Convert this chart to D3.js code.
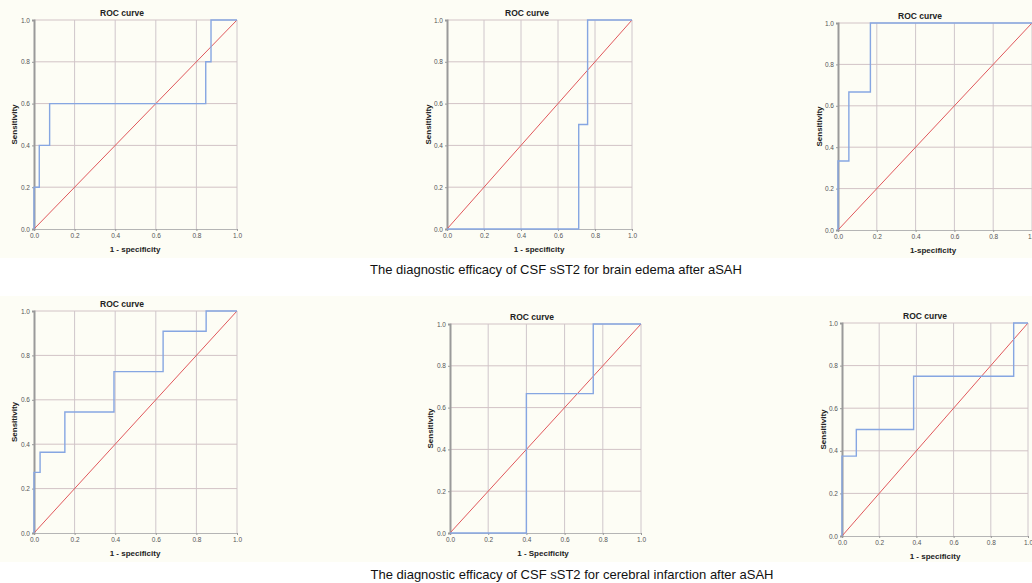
<!DOCTYPE html>
<html>
<head>
<meta charset="utf-8">
<script src="https://cdn.jsdelivr.net/npm/d3@7"></script>
<style>
  body { margin: 0; background: #ffffff; }
  svg { display: block; font-family: "Liberation Sans", Arial, sans-serif; }
</style>
</head>
<body>
<div id="chart"></div>
<script>
// ROC step points (1 - specificity, sensitivity) for each panel
const edemaA_fpr = [0, 0, 0.026, 0.026, 0.077, 0.077, 0.846, 0.846, 0.872, 0.872, 1];
const edemaA_tpr = [0, 0.2, 0.2, 0.4, 0.4, 0.6, 0.6, 0.8, 0.8, 1, 1];
const edemaB_fpr = [0, 0.712, 0.712, 0.76, 0.76, 1];
const edemaB_tpr = [0, 0, 0.5, 0.5, 1, 1];
const edemaC_fpr = [0, 0, 0.056, 0.056, 0.167, 0.167, 1];
const edemaC_tpr = [0, 0.333, 0.333, 0.667, 0.667, 1, 1];
const infarctA_fpr = [0, 0, 0.03, 0.03, 0.152, 0.152, 0.394, 0.394, 0.636, 0.636, 0.848, 0.848, 1];
const infarctA_tpr = [0, 0.273, 0.273, 0.364, 0.364, 0.545, 0.545, 0.727, 0.727, 0.909, 0.909, 1, 1];
const infarctB_fpr = [0, 0.4, 0.4, 0.75, 0.75, 1];
const infarctB_tpr = [0, 0, 0.667, 0.667, 1, 1];
const infarctC_fpr = [0, 0, 0.077, 0.077, 0.385, 0.385, 0.923, 0.923, 1];
const infarctC_tpr = [0, 0.375, 0.375, 0.5, 0.5, 0.75, 0.75, 1, 1];

const tickVals = [0, 0.2, 0.4, 0.6, 0.8, 1.0];
const panelTitle = "ROC curve";
const yLabel = "Sensitivity";
const xLabels = ["1 - specificity", "1 - specificity", "1-specificity",
                 "1 - specificity", "1 - Specificity", "1 - specificity"];
const captions = ["The diagnostic efficacy of CSF sST2 for brain edema after aSAH",
                  "The diagnostic efficacy of CSF sST2 for cerebral infarction after aSAH"];

const W = 1032, H = 583;
const svg = d3.select("#chart").append("svg")
  .attr("width", W).attr("height", H);

// cream backgrounds behind each row of plots
svg.append("rect").attr("x", 0).attr("y", 0).attr("width", W).attr("height", 258).attr("fill", "#fdfdf5");
svg.append("rect").attr("x", 0).attr("y", 296).attr("width", W).attr("height", 266).attr("fill", "#fdfdf5");

// plot box of each panel: left, right, top, bottom, title center, xlabel center, ylabel center x
const panels = [
  {fpr: edemaA_fpr, tpr: edemaA_tpr, l: 34, r: 237, t: 20, b: 229, tx: 122, lx: 135, ly: 14},
  {fpr: edemaB_fpr, tpr: edemaB_tpr, l: 447, r: 632, t: 20, b: 229, tx: 527, lx: 539, ly: 428},
  {fpr: edemaC_fpr, tpr: edemaC_tpr, l: 838, r: 1032, t: 23, b: 230, tx: 920, lx: 933, ly: 819},
  {fpr: infarctA_fpr, tpr: infarctA_tpr, l: 34, r: 237, t: 311, b: 533, tx: 122, lx: 135, ly: 14},
  {fpr: infarctB_fpr, tpr: infarctB_tpr, l: 450, r: 641, t: 324, b: 533, tx: 532, lx: 543, ly: 430},
  {fpr: infarctC_fpr, tpr: infarctC_tpr, l: 842, r: 1028, t: 323, b: 536, tx: 925, lx: 935, ly: 823}
];

panels.forEach(function(p, i) {
  const x = d3.scaleLinear().domain([0, 1]).range([p.l, p.r]);
  const y = d3.scaleLinear().domain([0, 1]).range([p.b, p.t]);
  const g = svg.append("g");

  // grid
  g.selectAll(".vg").data(tickVals.slice(1)).enter().append("line")
    .attr("x1", d => x(d)).attr("x2", d => x(d))
    .attr("y1", p.t).attr("y2", p.b)
    .attr("stroke", "#cfc6cb").attr("stroke-width", 1);
  g.selectAll(".hg").data(tickVals.slice(1)).enter().append("line")
    .attr("x1", p.l).attr("x2", p.r)
    .attr("y1", d => y(d)).attr("y2", d => y(d))
    .attr("stroke", "#d2c3c6").attr("stroke-width", 1);

  // axes
  const xAxis = g.append("g")
    .attr("transform", "translate(0," + p.b + ")")
    .call(d3.axisBottom(x).tickValues(tickVals).tickFormat(d3.format(".1f")).tickSize(2).tickPadding(2));
  const yAxis = g.append("g")
    .attr("transform", "translate(" + p.l + ",0)")
    .call(d3.axisLeft(y).tickValues(tickVals).tickFormat(d3.format(".1f")).tickSize(2).tickPadding(2));
  [xAxis, yAxis].forEach(function(a) {
    a.select(".domain").attr("stroke", "#b5b5b5");
    a.selectAll(".tick line").attr("stroke", "#999");
    a.selectAll("text").attr("fill", "#555").style("font-size", "6.5px")
      .style("font-family", "Liberation Sans, Arial, sans-serif");
  });
  yAxis.select(".domain").attr("stroke", "#9a9a9a").attr("stroke-width", 2);

  // diagonal reference line
  g.append("line")
    .attr("x1", x(0)).attr("y1", y(0)).attr("x2", x(1)).attr("y2", y(1))
    .attr("stroke", "#e0585c").attr("stroke-width", 1);

  // ROC curve
  const pts = p.fpr.map((f, k) => [f, p.tpr[k]]);
  g.append("path")
    .datum(pts)
    .attr("fill", "none")
    .attr("stroke", "#86a6e2")
    .attr("stroke-width", 1.4)
    .attr("d", d3.line().x(d => x(d[0])).y(d => y(d[1])));

  // title and labels
  g.append("text")
    .attr("x", p.tx).attr("y", p.t - 4)
    .attr("text-anchor", "middle")
    .style("font-size", "8.5px").style("font-weight", "bold").attr("fill", "#222")
    .text(panelTitle);
  g.append("text")
    .attr("x", p.lx).attr("y", p.b + 23)
    .attr("text-anchor", "middle")
    .style("font-size", "8px").style("font-weight", "bold").attr("fill", "#222")
    .text(xLabels[i]);
  g.append("text")
    .attr("transform", "translate(" + (p.ly + 3) + "," + ((p.t + p.b) / 2) + ") rotate(-90)")
    .attr("text-anchor", "middle")
    .style("font-size", "8px").style("font-weight", "bold").attr("fill", "#222")
    .text(yLabel);
});

// row captions
svg.append("text").attr("x", 556).attr("y", 274)
  .attr("text-anchor", "middle").style("font-size", "13px").attr("fill", "#111")
  .text(captions[0]);
svg.append("text").attr("x", 572).attr("y", 579)
  .attr("text-anchor", "middle").style("font-size", "13px").attr("fill", "#111")
  .text(captions[1]);
</script>
</body>
</html>
